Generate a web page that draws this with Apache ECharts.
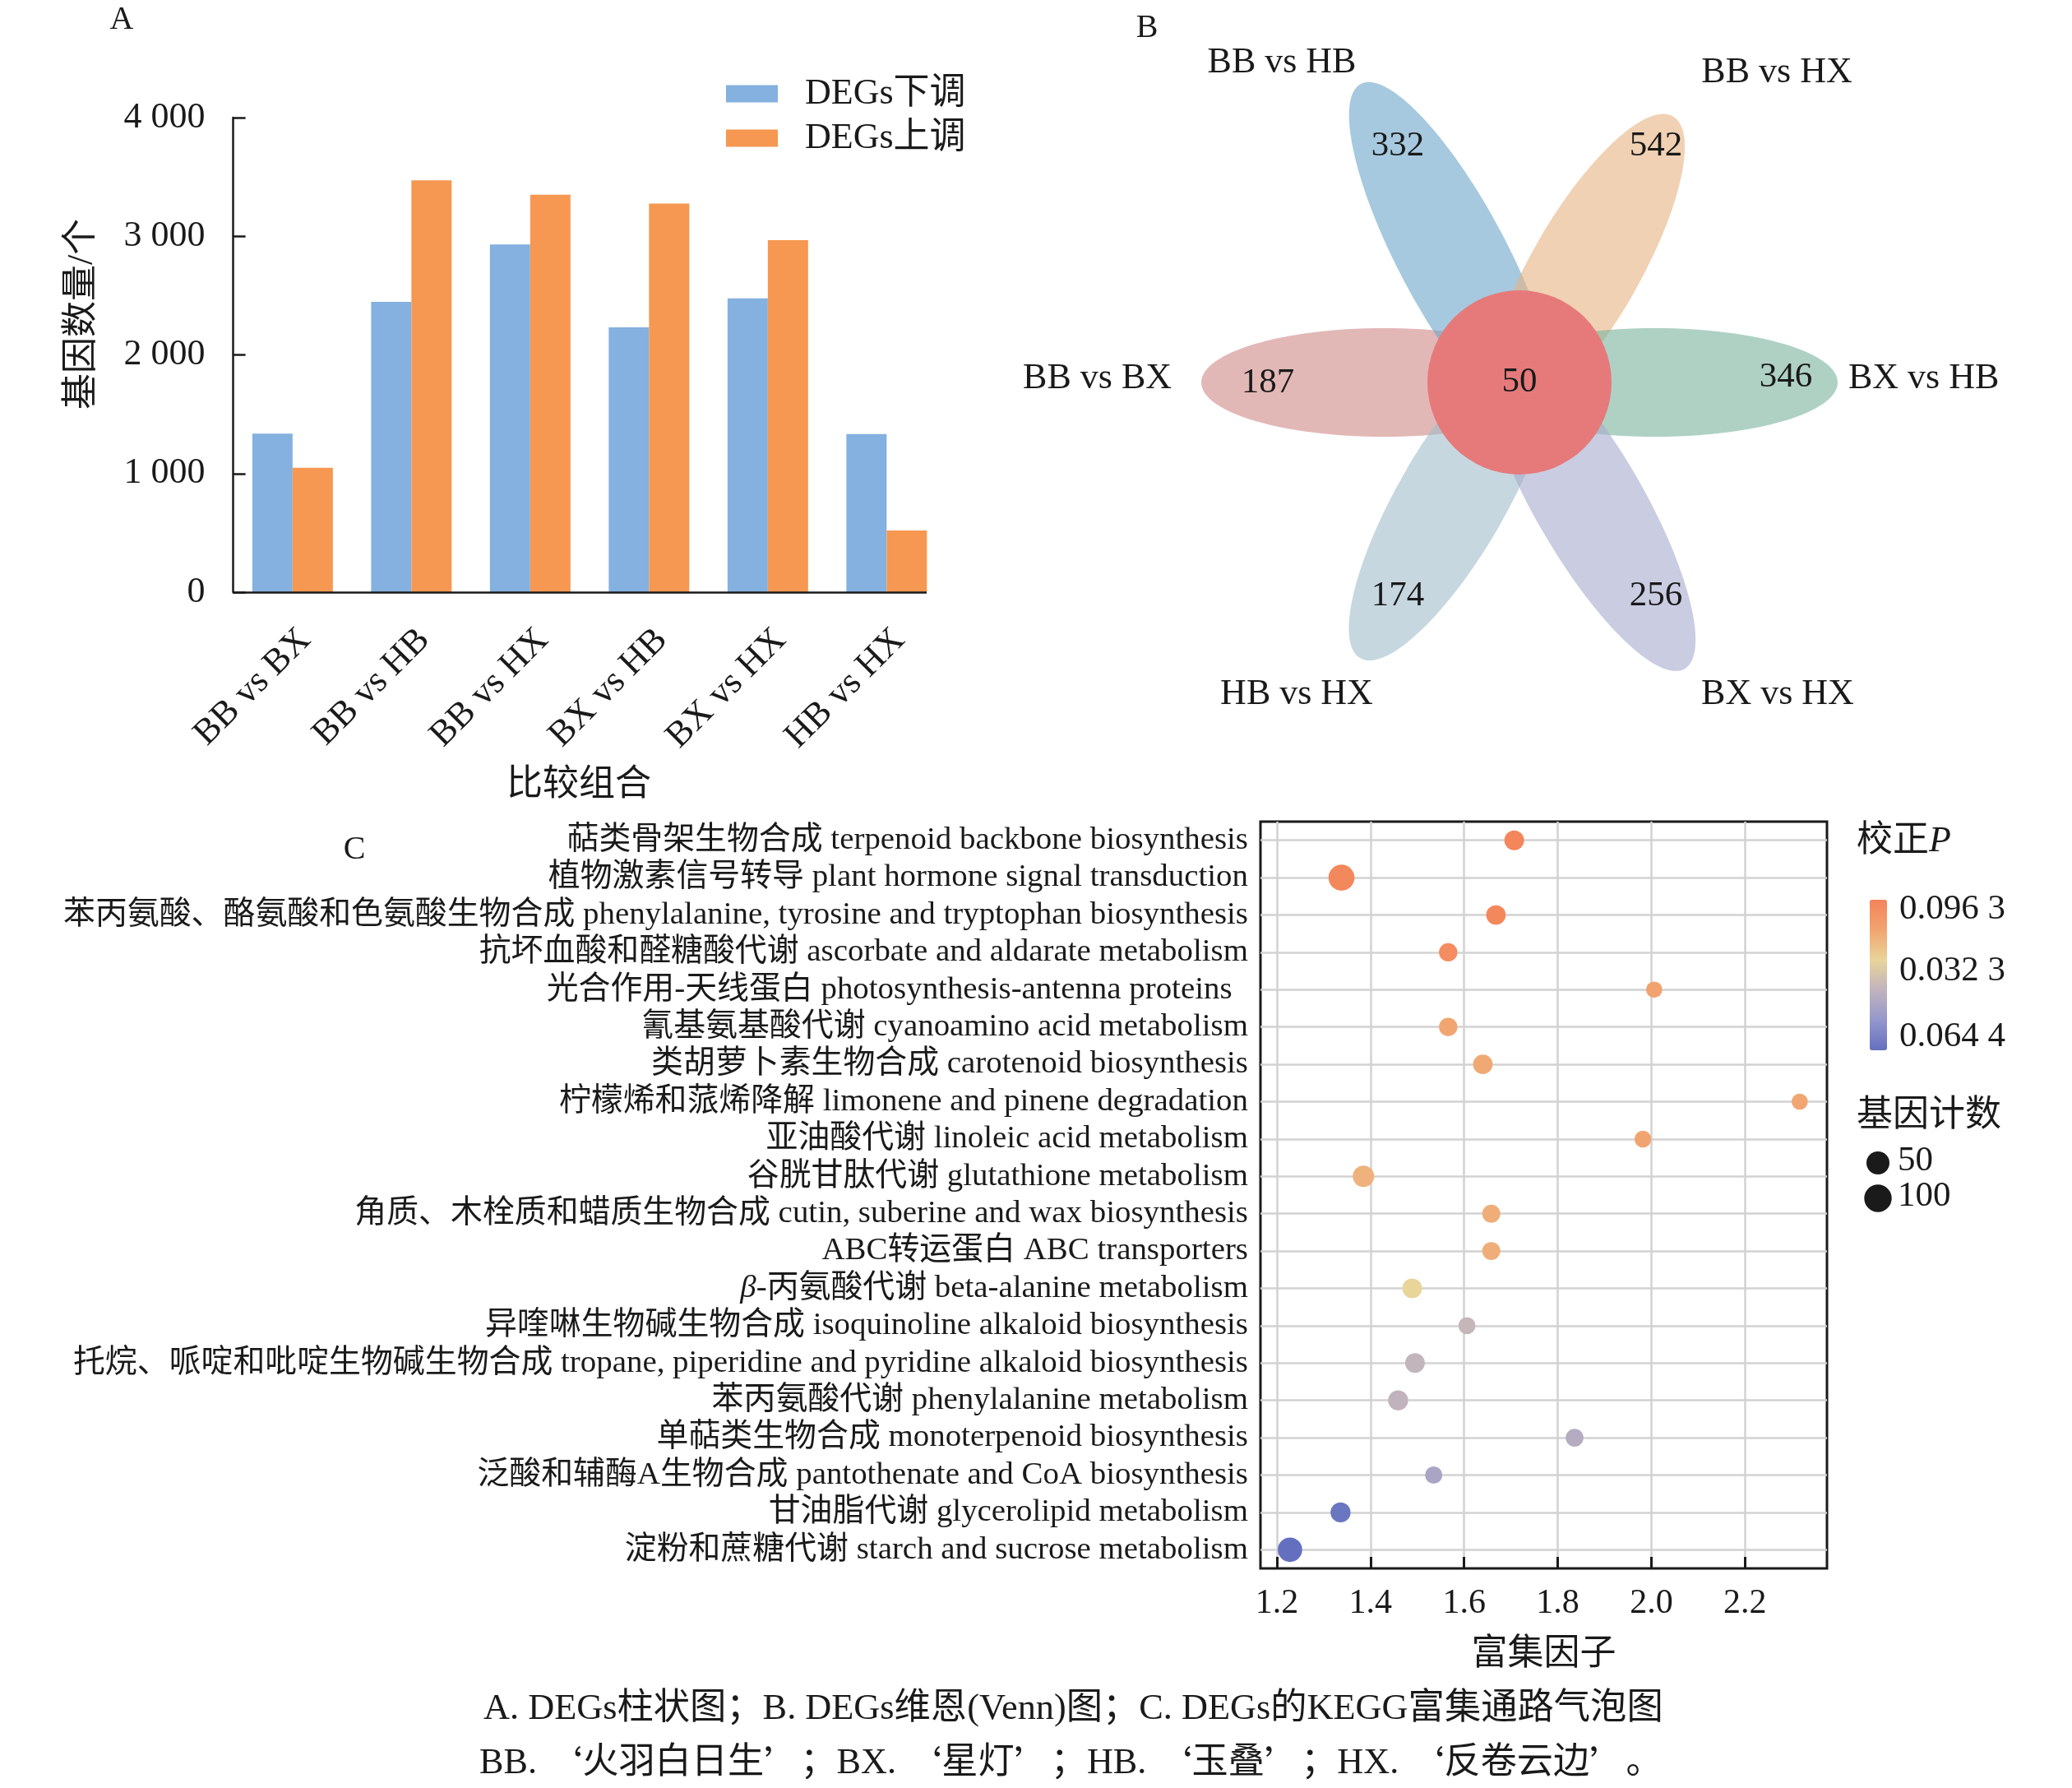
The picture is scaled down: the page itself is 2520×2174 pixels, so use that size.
<!DOCTYPE html>
<html><head><meta charset="utf-8">
<script src="https://cdn.jsdelivr.net/npm/echarts@6/dist/echarts.min.js"></script>
<style>html,body{margin:0;padding:0;background:#fff}#c{width:2520px;height:2174px}</style>
</head><body><div id="c"></div>
<script>
const FONT = "'Liberation Serif', 'Times New Roman', 'Noto Sans CJK SC', serif";
const INK = '#1a1a1a';

// ---------- Panel A: DEG counts ----------
const groups = ['BB vs BX', 'BB vs HB', 'BB vs HX', 'BX vs HB', 'BX vs HX', 'HB vs HX'];
const downDEGs = [1337, 2447, 2931, 2232, 2476, 1333];
const upDEGs = [1049, 3472, 3350, 3276, 2967, 520];
const seriesNames = ['DEGs下调', 'DEGs上调'];
const countMax = 4000;
const countStep = 1000;

// ---------- Panel B: Venn (flower) ----------
const vennSets = ['BB vs BX', 'BB vs HB', 'BB vs HX', 'BX vs HB', 'HB vs HX', 'BX vs HX'];
const vennUnique = [187, 332, 542, 346, 174, 256];
const vennCore = 50;

// ---------- Panel C: KEGG bubble ----------
const pathways = [
  '萜类骨架生物合成 terpenoid backbone biosynthesis',
  '植物激素信号转导 plant hormone signal transduction',
  '苯丙氨酸、酪氨酸和色氨酸生物合成 phenylalanine, tyrosine and tryptophan biosynthesis',
  '抗坏血酸和醛糖酸代谢 ascorbate and aldarate metabolism',
  '光合作用-天线蛋白 photosynthesis-antenna proteins\u2002',
  '氰基氨基酸代谢 cyanoamino acid metabolism',
  '类胡萝卜素生物合成 carotenoid biosynthesis',
  '柠檬烯和蒎烯降解 limonene and pinene degradation',
  '亚油酸代谢 linoleic acid metabolism',
  '谷胱甘肽代谢 glutathione metabolism',
  '角质、木栓质和蜡质生物合成 cutin, suberine and wax biosynthesis',
  'ABC转运蛋白 ABC transporters',
  '{i|β}-丙氨酸代谢 beta-alanine metabolism',
  '异喹啉生物碱生物合成 isoquinoline alkaloid biosynthesis',
  '托烷、哌啶和吡啶生物碱生物合成 tropane, piperidine and pyridine alkaloid biosynthesis',
  '苯丙氨酸代谢 phenylalanine metabolism',
  '单萜类生物合成 monoterpenoid biosynthesis',
  '泛酸和辅酶A生物合成 pantothenate and CoA biosynthesis',
  '甘油脂代谢 glycerolipid metabolism',
  '淀粉和蔗糖代谢 starch and sucrose metabolism'
];
const richFactor = [1.707, 1.338, 1.668, 1.566, 2.006, 1.566, 1.640, 2.317, 1.982, 1.385,
                    1.658, 1.658, 1.489, 1.606, 1.495, 1.459, 1.836, 1.535, 1.336, 1.228];
const geneCount = [56, 98, 55, 49, 38, 49, 55, 38, 41, 66,
                   47, 47, 56, 42, 56, 58, 46, 43, 58, 86];
const padjLevel = [0.99, 0.97, 0.97, 0.94, 0.81, 0.79, 0.78, 0.79, 0.80, 0.74,
                   0.76, 0.76, 0.60, 0.42, 0.41, 0.40, 0.35, 0.30, 0.03, 0.0];
const richTicks = [1.2, 1.4, 1.6, 1.8, 2.0, 2.2];
const padjLabels = ['0.096 3', '0.032 3', '0.064 4'];
const sizeLegend = [50, 100];

// ---------- layout / style constants (not data) ----------
const petalAngle = [180, 118, 60, 0, 240, 300];
const petalLength = [222, 238, 213, 222, 222, 232];
const petalColor = ['rgba(207,137,135,0.6)', 'rgba(107,165,202,0.6)', 'rgba(230,178,128,0.6)',
                    'rgba(122,178,157,0.6)', 'rgba(160,188,202,0.6)', 'rgba(167,170,205,0.6)'];
const petalNumberAt = [[-306, -1], [-148, 287], [166, 287], [324, 6], [-148, -260], [166, -260]];
const petalNameAt = [[-423, 5, 'right'], [-289, 389, 'center'], [313, 377, 'center'],
                     [400, 5, 'left'], [-271, -379, 'center'], [314, -379, 'center']];
const PETAL = { d: 165, b: 66, core: 112 };

const fmtThousands = v => v >= 1000 ? Math.floor(v / 1000) + ' ' + String(v % 1000).padStart(3, '0') : String(v);

const chart = echarts.init(document.getElementById('c'), null, { renderer: 'canvas' });

const option = {
  animation: false,
  backgroundColor: '#fff',
  textStyle: { fontFamily: FONT, color: INK },
  legend: {
    data: seriesNames,
    orient: 'vertical',
    left: 883, top: 92, padding: 0,
    itemWidth: 63, itemHeight: 21, itemGap: 10,
    icon: 'rect',
    textStyle: { fontSize: 44, fontFamily: FONT, color: INK, padding: [0, 0, 0, 28] }
  },
  grid: [
    { left: 283.6, top: 143, width: 867, height: 577 },
    { left: 1533, top: 999, width: 689, height: 908, show: true, borderColor: INK, borderWidth: 3, backgroundColor: 'transparent' },
    { left: 1448, top: 65, width: 800, height: 800 }
  ],
  xAxis: [
    {
      gridIndex: 0, type: 'category', data: groups,
      axisLine: { show: false },
      axisTick: { show: false },
      axisLabel: { rotate: 45, fontSize: 44, fontFamily: FONT, color: INK, margin: 36, verticalAlign: 'top' },
      name: '比较组合', nameLocation: 'middle', nameGap: 213,
      nameTextStyle: { fontSize: 44, fontFamily: FONT, color: INK, padding: [0, 26, 0, 0] }
    },
    {
      gridIndex: 1, type: 'value', min: 1.1649, max: 2.3752,
      axisLine: { show: false, onZero: false },
      axisTick: { show: true, inside: true, length: 14, lineStyle: { color: INK, width: 3 }, customValues: richTicks },
      axisLabel: { fontSize: 42, fontFamily: FONT, color: INK, margin: 22, customValues: richTicks, formatter: v => v.toFixed(1) },
      splitLine: { show: true, lineStyle: { color: '#d2d2d2', width: 2.5 } },
      name: '富集因子', nameLocation: 'middle', nameGap: 83,
      nameTextStyle: { fontSize: 44, fontFamily: FONT, color: INK }
    },
    { gridIndex: 2, type: 'value', min: -400, max: 400, show: false }
  ],
  yAxis: [
    {
      gridIndex: 0, type: 'value', min: 0, max: countMax, interval: countStep,
      axisLine: { show: true, lineStyle: { color: INK, width: 2.5 } },
      axisTick: { show: true, inside: true, length: 15, lineStyle: { color: INK, width: 2.5 } },
      axisLabel: { fontSize: 44, fontFamily: FONT, color: INK, margin: 34, formatter: fmtThousands },
      splitLine: { show: false }
    },
    {
      gridIndex: 1, type: 'value', inverse: true, min: -0.5, max: pathways.length - 0.5,
      axisLine: { show: false, onZero: false },
      axisTick: { show: false, customValues: pathways.map((p, i) => i) },
      axisLabel: {
        fontSize: 38.9, fontFamily: FONT, color: INK, margin: 15,
        customValues: pathways.map((p, i) => i),
        formatter: v => pathways[Math.round(v)],
        rich: { i: { fontStyle: 'italic', fontSize: 38.9, fontFamily: FONT, color: INK } }
      },
      splitLine: { show: true, lineStyle: { color: '#d2d2d2', width: 2.5 } }
    },
    { gridIndex: 2, type: 'value', min: -400, max: 400, show: false }
  ],
  visualMap: {
    type: 'continuous', min: 0, max: 1, dimension: 3, seriesIndex: 2,
    orient: 'vertical', left: 2274, top: 1094, padding: 0,
    itemWidth: 21, itemHeight: 183, calculable: false, hoverLink: false,
    text: null,
    inRange: { color: ['#6470bf', '#9597cc', '#c1b3be', '#e9d49a', '#f1a470', '#f5835a'] }
  },
  series: [
    {
      name: seriesNames[0], type: 'bar', xAxisIndex: 0, yAxisIndex: 0,
      data: downDEGs, itemStyle: { color: '#84b1df' },
      barGap: '0%', barCategoryGap: '32.2%',
      markLine: {
        silent: true, symbol: 'none', label: { show: false },
        lineStyle: { color: INK, width: 2.5, type: 'solid' },
        data: [[{ x: 283, yAxis: 0 }, { x: 1127, yAxis: 0 }]]
      }
    },
    {
      name: seriesNames[1], type: 'bar', xAxisIndex: 0, yAxisIndex: 0,
      data: upDEGs, itemStyle: { color: '#f69851' },
      barGap: '0%', barCategoryGap: '32.2%'
    },
    {
      name: 'KEGG', type: 'scatter', xAxisIndex: 1, yAxisIndex: 1,
      data: pathways.map((p, i) => [richFactor[i], i, geneCount[i], padjLevel[i]]),
      symbolSize: v => 3.2 * Math.sqrt(v[2]),
      itemStyle: { opacity: 1 }, z: 5
    },
    {
      name: 'venn', type: 'custom', xAxisIndex: 2, yAxisIndex: 2,
      data: vennSets.map((s, i) => [petalAngle[i], vennUnique[i], i]),
      renderItem: (params, api) => {
        const i = api.value(2);
        const ang = api.value(0) * Math.PI / 180;
        const cs = Math.cos(ang), sn = Math.sin(ang);
        const a = petalLength[i];
        const dd = PETAL.d + (a - 222) / 2;
        const c = api.coord([dd * cs, dd * sn]);
        const rx = api.size([a, 0])[0];
        const ry = api.size([0, PETAL.b])[1];
        const lp = api.coord(petalNumberAt[i]);
        const nm = petalNameAt[i];
        const np = api.coord([nm[0], nm[1]]);
        return {
          type: 'group',
          children: [
            { type: 'ellipse', shape: { cx: 0, cy: 0, rx: rx, ry: ry }, x: c[0], y: c[1], rotation: ang,
              style: { fill: petalColor[i] } },
            { type: 'text', x: lp[0], y: lp[1], z2: 10,
              style: { text: String(api.value(1)), fill: INK, fontSize: 43, fontFamily: FONT, align: 'center', verticalAlign: 'middle' } },
            { type: 'text', x: np[0], y: np[1], z2: 10,
              style: { text: vennSets[i], fill: INK, fontSize: 44, fontFamily: FONT, align: nm[2], verticalAlign: 'middle' } }
          ]
        };
      },
      z: 2
    },
    {
      name: 'vennCore', type: 'custom', xAxisIndex: 2, yAxisIndex: 2,
      data: [[0, 0, vennCore]],
      renderItem: (params, api) => {
        const c = api.coord([api.value(0), api.value(1)]);
        const r = api.size([PETAL.core, 0])[0];
        return {
          type: 'group',
          children: [
            { type: 'circle', shape: { cx: c[0], cy: c[1], r: r }, style: { fill: '#e67a7b' } },
            { type: 'text', x: c[0], y: c[1], z2: 10,
              style: { text: String(api.value(2)), fill: INK, fontSize: 43, fontFamily: FONT, align: 'center', verticalAlign: 'middle' } }
          ]
        };
      },
      z: 3
    }
  ],
  graphic: [
    { type: 'text', x: 148, y: 24, style: { text: 'A', fontSize: 40, fontFamily: FONT, fill: INK, align: 'center', verticalAlign: 'middle' } },
    { type: 'text', x: 1395, y: 34, style: { text: 'B', fontSize: 40, fontFamily: FONT, fill: INK, align: 'center', verticalAlign: 'middle' } },
    { type: 'text', x: 431, y: 1033, style: { text: 'C', fontSize: 40, fontFamily: FONT, fill: INK, align: 'center', verticalAlign: 'middle' } },
    { type: 'text', x: 100, y: 382, rotation: Math.PI / 2,
      style: { text: '基因数量/个', fontSize: 44, fontFamily: FONT, fill: INK, align: 'center', verticalAlign: 'middle' } },
    { type: 'text', x: 2258, y: 1023,
      style: { text: '校正{i|P}', fontSize: 44, fontFamily: FONT, fill: INK, align: 'left', verticalAlign: 'middle',
               rich: { i: { fontStyle: 'italic', fontSize: 44, fontFamily: FONT, fill: INK } } } },
    { type: 'text', x: 2310, y: 1106, style: { text: padjLabels[0], fontSize: 43, fontFamily: FONT, fill: INK, align: 'left', verticalAlign: 'middle' } },
    { type: 'text', x: 2310, y: 1181, style: { text: padjLabels[1], fontSize: 43, fontFamily: FONT, fill: INK, align: 'left', verticalAlign: 'middle' } },
    { type: 'text', x: 2310, y: 1261, style: { text: padjLabels[2], fontSize: 43, fontFamily: FONT, fill: INK, align: 'left', verticalAlign: 'middle' } },
    { type: 'text', x: 2258, y: 1357, style: { text: '基因计数', fontSize: 44, fontFamily: FONT, fill: INK, align: 'left', verticalAlign: 'middle' } },
    { type: 'circle', shape: { cx: 2284, cy: 1414, r: 14 }, style: { fill: INK } },
    { type: 'circle', shape: { cx: 2284, cy: 1457, r: 16.7 }, style: { fill: INK } },
    { type: 'text', x: 2308, y: 1412, style: { text: String(sizeLegend[0]), fontSize: 43, fontFamily: FONT, fill: INK, align: 'left', verticalAlign: 'middle' } },
    { type: 'text', x: 2308, y: 1455, style: { text: String(sizeLegend[1]), fontSize: 43, fontFamily: FONT, fill: INK, align: 'left', verticalAlign: 'middle' } },
    { type: 'text', x: 588, y: 2078,
      style: { text: 'A. DEGs柱状图；B. DEGs维恩(Venn)图；C. DEGs的KEGG富集通路气泡图', fontSize: 44.3, fontFamily: FONT, fill: INK, align: 'left', verticalAlign: 'middle' } },
    { type: 'text', x: 583, y: 2144,
      style: { text: 'BB. {q|‘}火羽白日生{q|’}；BX. {q|‘}星灯{q|’}；HB. {q|‘}玉叠{q|’}；HX. {q|‘}反卷云边{q|’}。',
               fontSize: 44.2, fontFamily: FONT, fill: INK, align: 'left', verticalAlign: 'middle',
               rich: { q: { fontSize: 44.2, fontFamily: "'Noto Sans CJK SC'", fill: INK } } } }
  ]
};
chart.setOption(option);
</script>
</body></html>
